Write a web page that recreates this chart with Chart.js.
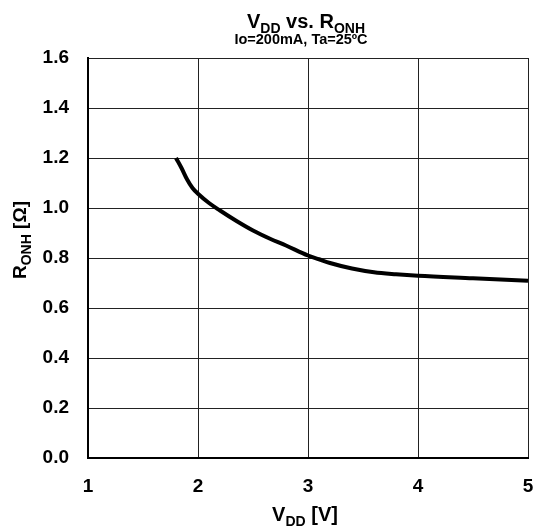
<!DOCTYPE html>
<html>
<head>
<meta charset="utf-8">
<script src="https://cdn.jsdelivr.net/npm/chart.js@4.4.0/dist/chart.umd.min.js"></script>
<style>
  html, body { margin: 0; padding: 0; background: #fff; overflow: hidden; }
  #wrap { width: 536px; height: 531px; position: relative; }
  canvas { display: block; }
</style>
</head>
<body>
<div id="wrap"><canvas id="chart"></canvas></div>
<script>
// VDD vs RONH のデータ (Io=200mA, Ta=25ºC)
const vdd = [1.8, 1.85, 1.9, 1.95, 2.0, 2.1, 2.2, 2.35, 2.5, 2.65, 2.8, 3.0, 3.1, 3.2, 3.4, 3.6, 3.8, 4.0, 4.5, 5.0];
const rOnh = [1.20, 1.16, 1.115, 1.08, 1.057, 1.02, 0.99, 0.948, 0.91, 0.878, 0.85, 0.81, 0.795, 0.78, 0.758, 0.743, 0.735, 0.729, 0.719, 0.709];
const xTicks = [1, 2, 3, 4, 5];
const yTicks = [0.0, 0.2, 0.4, 0.6, 0.8, 1.0, 1.2, 1.4, 1.6];

const FONT = '"Liberation Sans", Arial, sans-serif';

// 下付き文字を含むテキストを描画
function drawRich(ctx, parts, x, y, size) {
    const subSize = Math.round(size * 0.72);
    let total = 0;
    parts.forEach(p => {
        ctx.font = 'bold ' + (p.sub ? subSize : size) + 'px ' + FONT;
        p.w = ctx.measureText(p.t).width;
        total += p.w;
    });
    let cx = x - total / 2;
    parts.forEach(p => {
        ctx.font = 'bold ' + (p.sub ? subSize : size) + 'px ' + FONT;
        ctx.fillText(p.t, cx, p.sub ? y + size * 0.25 : y);
        cx += p.w;
    });
}

const labelsPlugin = {
    id: 'richLabels',
    afterDraw(chart) {
        const ctx = chart.ctx;
        ctx.save();
        ctx.fillStyle = '#000';
        ctx.textBaseline = 'alphabetic';
        ctx.textAlign = 'left';
        // タイトル
        drawRich(ctx, [{t: 'V'}, {t: 'DD', sub: true}, {t: ' vs. R'}, {t: 'ONH', sub: true}], 306, 28, 20);
        ctx.font = 'bold 14.5px ' + FONT;
        ctx.textAlign = 'center';
        ctx.fillText('Io=200mA, Ta=25ºC', 301, 44);
        ctx.textAlign = 'left';
        // X軸タイトル
        drawRich(ctx, [{t: 'V'}, {t: 'DD', sub: true}, {t: ' [V]'}], 305, 521, 20);
        // Y軸タイトル
        ctx.translate(26, 240);
        ctx.rotate(-Math.PI / 2);
        drawRich(ctx, [{t: 'R'}, {t: 'ONH', sub: true}, {t: ' [Ω]'}], 0, 0, 19);
        ctx.restore();
    }
};

new Chart(document.getElementById('chart').getContext('2d'), {
    type: 'scatter',
    data: {
        datasets: [{
            data: vdd.map((v, i) => ({x: v, y: rOnh[i]})),
            showLine: true,
            borderColor: '#000',
            borderWidth: 4,
            pointRadius: 0,
            cubicInterpolationMode: 'monotone',
            fill: false
        }]
    },
    options: {
        responsive: true,
        maintainAspectRatio: false,
        animation: false,
        layout: {
            padding: {left: 0, right: 8, top: 58, bottom: 0}
        },
        plugins: {
            legend: {display: false},
            tooltip: {enabled: false}
        },
        scales: {
            x: {
                type: 'linear',
                min: 1,
                max: 5,
                afterBuildTicks: scale => { scale.ticks = xTicks.map(v => ({value: v})); },
                afterFit: scale => {
                    scale.height = 73;
                    scale.paddingLeft = 0;
                    scale.paddingRight = 0;
                },
                grid: {color: '#222', lineWidth: 1, drawTicks: false},
                border: {color: '#000', width: 2},
                ticks: {
                    color: '#000',
                    padding: 17,
                    maxRotation: 0,
                    font: {family: FONT, size: 19, weight: 'bold'},
                    callback: v => String(v)
                }
            },
            y: {
                min: 0,
                max: 1.6,
                afterBuildTicks: scale => { scale.ticks = yTicks.map(v => ({value: v})); },
                afterFit: scale => {
                    scale.width = 88;
                    scale.paddingTop = 0;
                    scale.paddingBottom = 0;
                },
                grid: {color: '#222', lineWidth: 1, drawTicks: false},
                border: {color: '#000', width: 2},
                ticks: {
                    color: '#000',
                    padding: 19,
                    font: {family: FONT, size: 19, weight: 'bold'},
                    callback: v => v.toFixed(1)
                }
            }
        }
    },
    plugins: [labelsPlugin]
});
</script>
</body>
</html>
